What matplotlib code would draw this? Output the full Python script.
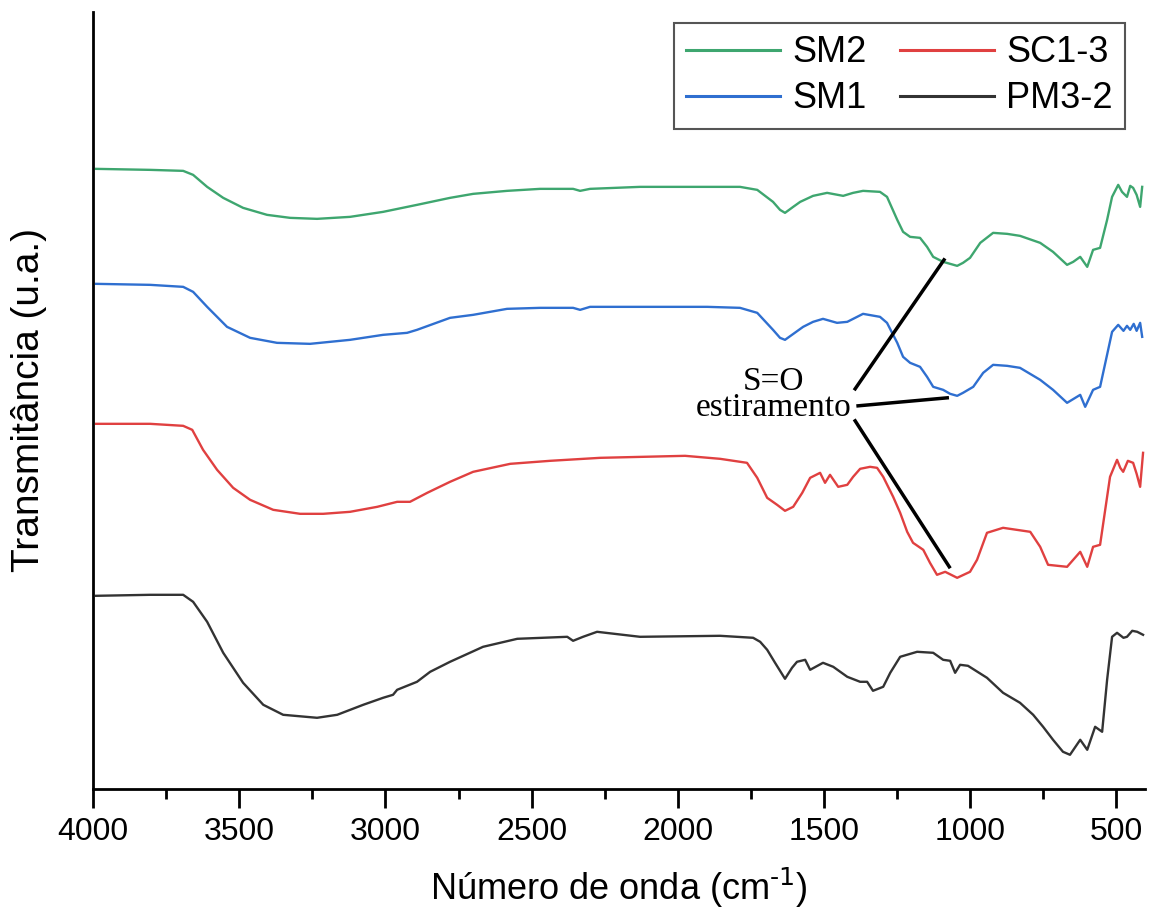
import matplotlib.pyplot as plt
import numpy as np

# FTIR spectra: wavenumber (cm-1) and transmittance (arbitrary units, curves stacked)
wn_sm2 = [3990, 3805, 3692, 3658, 3610, 3555, 3487, 3405, 3326, 3234, 3121, 3008, 2892, 2779,
          2700, 2584, 2471, 2358, 2334, 2300, 2129, 1899, 1787, 1728, 1674, 1650, 1633, 1605,
          1581, 1537, 1489, 1434, 1400, 1366, 1308, 1284, 1249, 1229, 1205, 1171, 1147, 1126,
          1092, 1068, 1044, 1024, 1000, 965, 921, 873, 829, 760, 716, 668, 647, 623, 599, 579,
          555, 531, 514, 493, 480, 463, 452, 442, 430, 418, 411]
t_sm2 = [63.1, 63.0, 62.9, 62.5, 61.3, 60.2, 59.2, 58.5, 58.2, 58.1, 58.3, 58.8, 59.5, 60.2,
         60.6, 60.9, 61.1, 61.1, 60.9, 61.1, 61.3, 61.3, 61.3, 61.0, 59.8, 59.0, 58.7, 59.3,
         59.8, 60.4, 60.7, 60.4, 60.7, 60.9, 60.8, 60.3, 58.0, 56.8, 56.3, 56.2, 55.3, 54.3,
         53.8, 53.6, 53.4, 53.7, 54.2, 55.7, 56.7, 56.6, 56.4, 55.7, 54.8, 53.5, 53.8, 54.3,
         53.3, 55.0, 55.2, 58.0, 60.3, 61.5, 60.8, 60.3, 61.4, 61.2, 60.5, 59.3, 61.3]

wn_sm1 = [3990, 3805, 3692, 3658, 3610, 3542, 3463, 3371, 3258, 3121, 3008, 2926, 2892, 2779,
          2700, 2584, 2471, 2358, 2334, 2300, 2129, 1899, 1787, 1728, 1674, 1650, 1633, 1571,
          1537, 1503, 1455, 1420, 1366, 1308, 1284, 1249, 1229, 1205, 1171, 1147, 1126, 1092,
          1068, 1044, 1024, 989, 955, 921, 873, 829, 760, 716, 668, 623, 606, 579, 555, 514,
          493, 475, 463, 452, 440, 430, 418, 411]
t_sm1 = [51.6, 51.5, 51.3, 50.8, 49.3, 47.3, 46.2, 45.7, 45.6, 46.0, 46.5, 46.7, 47.0, 48.2,
         48.5, 49.1, 49.2, 49.2, 49.0, 49.3, 49.3, 49.3, 49.2, 48.7, 47.0, 46.2, 46.0, 47.3,
         47.8, 48.1, 47.7, 47.8, 48.6, 48.3, 47.7, 45.7, 44.3, 43.7, 43.3, 42.3, 41.3, 41.0,
         40.6, 40.4, 40.7, 41.3, 42.7, 43.5, 43.4, 43.2, 42.0, 41.0, 39.7, 40.5, 39.3, 41.0,
         41.3, 46.8, 47.5, 46.9, 47.4, 47.0, 47.6, 46.9, 47.7, 46.3]

wn_sc13 = [3990, 3805, 3692, 3661, 3624, 3576, 3521, 3463, 3384, 3292, 3213, 3121, 3028, 2960,
           2916, 2857, 2779, 2700, 2573, 2437, 2265, 1975, 1855, 1763, 1728, 1694, 1660, 1633,
           1605, 1574, 1547, 1513, 1496, 1479, 1451, 1420, 1400, 1376, 1342, 1318, 1297, 1263,
           1239, 1215, 1195, 1160, 1137, 1113, 1085, 1044, 1000, 976, 942, 887, 794, 760, 733,
           668, 623, 599, 579, 555, 521, 497, 486, 476, 460, 442, 430, 418, 408]
t_sc13 = [37.6, 37.6, 37.4, 37.0, 35.0, 33.0, 31.2, 30.0, 29.0, 28.6, 28.6, 28.8, 29.3, 29.8,
          29.8, 30.7, 31.8, 32.8, 33.6, 33.9, 34.2, 34.4, 34.1, 33.7, 32.2, 30.2, 29.5, 28.9,
          29.3, 30.7, 32.2, 32.7, 31.7, 32.5, 31.3, 31.5, 32.3, 33.1, 33.3, 33.2, 32.3, 30.3,
          28.7, 26.8, 25.7, 25.0, 23.7, 22.5, 22.8, 22.2, 22.8, 24.0, 26.7, 27.2, 26.8, 25.3,
          23.5, 23.3, 24.8, 23.3, 25.3, 25.5, 32.3, 34.0, 33.2, 32.8, 33.9, 33.7, 32.6, 31.3,
          34.7]

wn_pm32 = [3990, 3805, 3692, 3658, 3610, 3555, 3487, 3418, 3350, 3234, 3165, 3076, 3008, 2974,
           2960, 2892, 2847, 2779, 2666, 2549, 2378, 2358, 2324, 2276, 2129, 1855, 1742, 1718,
           1694, 1667, 1633, 1609, 1592, 1564, 1547, 1503, 1468, 1420, 1376, 1352, 1332, 1297,
           1273, 1239, 1181, 1126, 1092, 1068, 1051, 1034, 1007, 942, 887, 829, 784, 750, 716,
           682, 658, 623, 599, 572, 548, 531, 514, 497, 475, 463, 445, 428, 408]
t_pm32 = [20.4, 20.5, 20.5, 19.8, 17.8, 14.7, 11.7, 9.5, 8.5, 8.2, 8.5, 9.5, 10.2, 10.5,
          11.0, 11.8, 12.8, 13.8, 15.3, 16.1, 16.3, 15.9, 16.3, 16.8, 16.3, 16.4, 16.2, 15.8,
          15.0, 13.7, 12.1, 13.2, 13.8, 14.0, 13.0, 13.7, 13.3, 12.3, 11.8, 11.8, 10.9, 11.3,
          12.7, 14.3, 14.8, 14.7, 14.0, 13.9, 12.7, 13.5, 13.4, 12.2, 10.7, 9.7, 8.5, 7.3,
          6.0, 4.8, 4.5, 6.0, 5.0, 7.3, 6.8, 12.0, 16.3, 16.7, 16.2, 16.3, 16.9, 16.8, 16.5]

names = ['SM2', 'SM1', 'SC1-3', 'PM3-2']
colors = ['#3ea66f', '#2f6fd0', '#e04040', '#333333']

# S=O stretching pointers: (start, end) as (wavenumber, transmittance)
so_lines = [((1393, 41.1), (1089, 54.0)),
            ((1383, 39.4), (1078, 40.2)),
            ((1393, 37.9), (1071, 23.3))]

fig = plt.figure(figsize=(11.5, 9.14), dpi=100)
ax = fig.add_axes([0.081, 0.137, 0.915, 0.85])

series = [(wn_sm2, t_sm2), (wn_sm1, t_sm1), (wn_sc13, t_sc13), (wn_pm32, t_pm32)]
for (x, y), name, c in zip(series, names, colors):
    ax.plot(x, y, color=c, lw=1.7, label=name, solid_joinstyle='round')

for (x0, y0), (x1, y1) in so_lines:
    ax.plot([x0, x1], [y0, y1], color='black', lw=2.5)
ax.text(1672, 40.5, 'S=O\nestiramento', ha='center', va='center',
        fontsize=24, family='Liberation Serif', linespacing=0.8)

ax.set_xlim(4000, 400)
ax.set_ylim(1.1, 78.8)
ax.set_xticks(np.arange(4000, 499, -500))
ax.set_xticks(np.arange(3750, 400, -500), minor=True)
ax.set_yticks([])
ax.spines['top'].set_visible(False)
ax.spines['right'].set_visible(False)
ax.spines['left'].set_linewidth(2)
ax.spines['bottom'].set_linewidth(2)
ax.tick_params(axis='x', which='major', length=14, width=2, labelsize=23, pad=6)
ax.tick_params(axis='x', which='minor', length=7, width=2)
for lab in ax.get_xticklabels():
    lab.set_family('Liberation Sans')

ax.set_xlabel(r'Número de onda (cm$^{\text{-1}}$)', fontsize=26,
              family='Liberation Sans', labelpad=14)
ax.set_ylabel('Transmitância (u.a.)', fontsize=28, family='Liberation Sans')
ax.yaxis.set_label_coords(-0.044, 0.5)

leg = ax.legend(ncol=2, loc='upper right', bbox_to_anchor=(0.981, 0.986), borderaxespad=0,
                fancybox=False, edgecolor='#555555', framealpha=1, handlelength=2.6,
                columnspacing=0.9, borderpad=0.35, labelspacing=0.3, handletextpad=0.35,
                prop={'family': 'Liberation Sans', 'size': 26})
leg.get_frame().set_linewidth(1.5)
for h in leg.get_lines():
    h.set_linewidth(2.2)

fig.savefig('out.png', dpi=100)
